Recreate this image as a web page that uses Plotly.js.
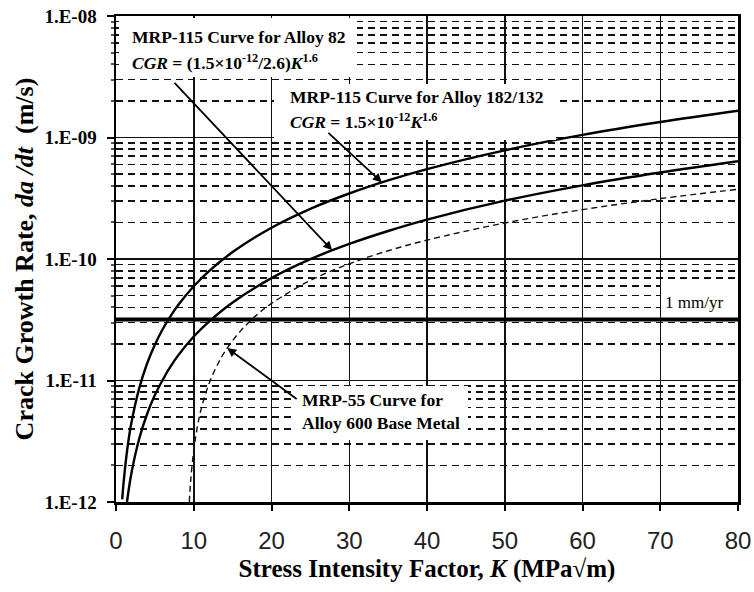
<!DOCTYPE html>
<html>
<head>
<meta charset="utf-8">
<script src="https://cdn.plot.ly/plotly-3.0.1.min.js"></script>
<style>html,body{margin:0;padding:0;background:#fff;}#chart{width:754px;height:592px;}</style>
</head>
<body>
<div id="chart"></div>
<script>
// ---- data ----
const K182 = [0.8, 1, 1.5, 2, 3, 4, 5, 6, 7, 8, 10, 12, 15, 20, 25, 30, 35, 40, 50, 60, 70, 80];
const cgr182 = [1.05e-12, 1.5e-12, 2.87e-12, 4.55e-12, 8.7e-12, 1.38e-11, 1.97e-11, 2.64e-11, 3.37e-11, 4.18e-11,
  5.97e-11, 7.99e-11, 1.14e-10, 1.81e-10, 2.59e-10, 3.46e-10, 4.43e-10, 5.49e-10, 7.84e-10, 1.05e-9, 1.34e-9, 1.66e-9];

const K82 = [1.42, 1.5, 2, 3, 4, 5, 6, 7, 8, 10, 12, 15, 20, 25, 30, 35, 40, 50, 60, 70, 80];
const cgr82 = [1.0e-12, 1.10e-12, 1.75e-12, 3.35e-12, 5.3e-12, 7.58e-12, 1.01e-11, 1.30e-11, 1.61e-11, 2.30e-11,
  3.07e-11, 4.39e-11, 6.96e-11, 9.96e-11, 1.33e-10, 1.70e-10, 2.11e-10, 3.02e-10, 4.04e-10, 5.15e-10, 6.38e-10];

const K600 = [9.43, 9.6, 10, 10.5, 11, 12, 13, 14, 16, 18, 20, 25, 30, 35, 40, 50, 60, 70, 80];
const cgr600 = [1.0e-12, 1.48e-12, 2.67e-12, 4.27e-12, 5.97e-12, 9.55e-12, 1.33e-11, 1.73e-11, 2.55e-11, 3.42e-11,
  4.31e-11, 6.66e-11, 9.13e-11, 1.17e-10, 1.43e-10, 1.98e-10, 2.55e-10, 3.14e-10, 3.75e-10];

const rate1mmyr = 3.17e-11;   // 1 mm/yr in m/s
const kRange = [0, 80];

const xTicks = [0, 10, 20, 30, 40, 50, 60, 70, 80];
const yTickVals = [1e-12, 1e-11, 1e-10, 1e-9, 1e-8];
const yTickText = ['1.E-12', '1.E-11', '1.E-10', '1.E-09', '1.E-08'];
const decades = [1e-12, 1e-11, 1e-10, 1e-9];
const minorMult = [2, 3, 4, 5, 6, 7, 8, 9];
const yMinorVals = [];
decades.forEach(d => minorMult.forEach(m => yMinorVals.push(m * d)));

// ---- layout helpers (pixel -> paper) ----
const L = 116, R = 16, T = 16, B = 90, W = 754, H = 592;
const pw = W - L - R, ph = H - T - B;
const px = v => (v - L) / pw;
const py = v => (H - B - v) / ph;
const serif = 'Liberation Serif, Times New Roman, serif';

const traces = [
  {x: kRange, y: [rate1mmyr, rate1mmyr], mode: 'lines', line: {color: '#000', width: 4}, hoverinfo: 'skip'},
  {x: K600, y: cgr600, mode: 'lines', line: {color: '#111', width: 1.4, dash: '6px,4px', shape: 'spline'}},
  {x: K82, y: cgr82, mode: 'lines', line: {color: '#000', width: 2.4, shape: 'spline'}},
  {x: K182, y: cgr182, mode: 'lines', line: {color: '#000', width: 2.4, shape: 'spline'}}
];

function box(x0, y0, x1, y1) {
  return {type: 'rect', xref: 'paper', yref: 'paper', x0: px(x0), x1: px(x1), y0: py(y1), y1: py(y0),
    fillcolor: '#fff', line: {width: 0}, layer: 'above'};
}
function label(text, x, y, size, bold) {
  return {xref: 'paper', yref: 'paper', x: px(x), y: py(y), xanchor: 'left', yanchor: 'middle',
    text: bold === false ? text : '<b>' + text + '</b>', showarrow: false,
    font: {family: serif, size: size, color: '#000'}};
}
function arrow(kx, val, ax, ay) {
  return {xref: 'x', yref: 'y', x: kx, y: Math.log10(val), ax: ax, ay: ay, text: '', showarrow: true,
    arrowhead: 2, arrowsize: 1, arrowwidth: 1.8, arrowcolor: '#000', standoff: 0};
}

const layout = {
  width: W, height: H,
  margin: {l: L, r: R, t: T, b: B},
  paper_bgcolor: '#fff', plot_bgcolor: '#fff',
  showlegend: false,
  xaxis: {
    range: kRange, tickmode: 'array', tickvals: xTicks, ticks: 'outside', ticklen: 6, tickwidth: 2, tickcolor: '#000',
    ticklabelstandoff: 10,
    showgrid: true, gridcolor: '#111', gridwidth: 1.5, zeroline: false,
    showline: true, mirror: true, linecolor: '#000', linewidth: 2.5,
    tickfont: {family: 'Liberation Sans, Arial, sans-serif', size: 24, color: '#222'},
    title: {text: '<b>Stress Intensity Factor, <i>K</i> (MPa√m)</b>', font: {family: serif, size: 25, color: '#000'}, standoff: 6}
  },
  yaxis: {
    type: 'log', range: [-12, -8], tickmode: 'array', tickvals: yTickVals, ticktext: yTickText,
    ticks: 'outside', ticklen: 7, tickwidth: 2, tickcolor: '#000', ticklabelstandoff: 6,
    showgrid: true, gridcolor: '#111', gridwidth: 1.3, zeroline: false,
    showline: true, mirror: true, linecolor: '#000', linewidth: 2.5,
    tickfont: {family: serif, size: 19, color: '#000', weight: 'bold'},
    title: {text: '<b>Crack Growth Rate, <i>da /dt</i>  (m/s)</b>', font: {family: serif, size: 26, color: '#000'}, standoff: 4},
    minor: {tickmode: 'array', tickvals: yMinorVals, showgrid: true, gridcolor: '#111', gridwidth: 1.7,
      griddash: '7px,5px', ticks: 'outside', ticklen: 3, tickcolor: '#555'}
  },
  shapes: [
    box(119, 18, 357, 77),
    box(274, 84, 556, 140),
    box(294, 386, 468, 440),
    box(661, 283, 735, 317)
  ],
  annotations: [
    label('MRP-115 Curve for Alloy 82', 130, 37, 17.5),
    label('<i>CGR</i> = (1.5×10<sup>-12</sup>/2.6)<i>K</i><sup>1.6</sup>', 130, 62, 17.5),
    label('MRP-115 Curve for Alloy 182/132', 288, 97, 17.5),
    label('<i>CGR</i> = 1.5×10<sup>-12</sup><i>K</i><sup>1.6</sup>', 288, 121, 17.5),
    label('MRP-55 Curve for', 300, 400, 17.5),
    label('Alloy 600 Base Metal', 300, 423, 17.5),
    label('1 mm/yr', 663, 302, 17, false),
    arrow(27.8, 1.18e-10, -159, -169),
    arrow(34.2, 4.27e-10, -55, -51),
    arrow(14.3, 1.85e-11, 71, 52)
  ]
};

Plotly.newPlot('chart', traces, layout, {staticPlot: true, displayModeBar: false});
</script>
</body>
</html>
